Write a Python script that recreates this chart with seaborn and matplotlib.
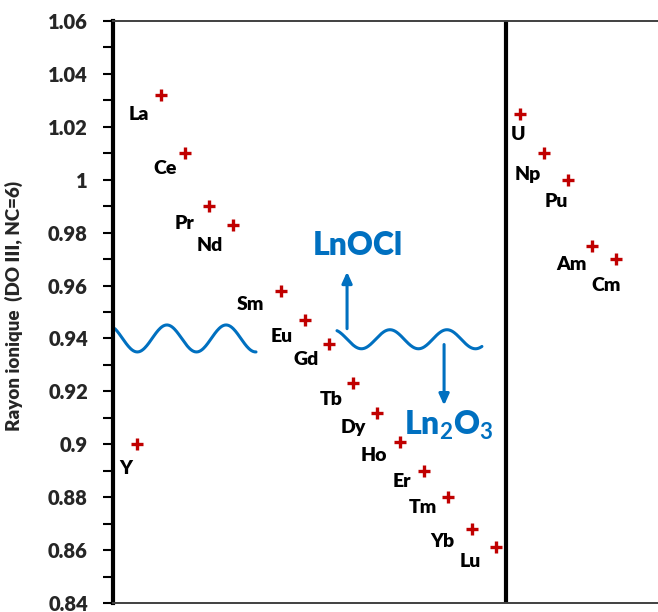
import numpy as np
import pandas as pd
import matplotlib
matplotlib.use("Agg")
import matplotlib.pyplot as plt
from matplotlib.ticker import MultipleLocator, FuncFormatter
import seaborn as sns

# Ionic radii (oxidation state III, coordination number 6)
elements = ["Y", "La", "Ce", "Pr", "Nd", "Sm", "Eu", "Gd", "Tb", "Dy",
            "Ho", "Er", "Tm", "Yb", "Lu", "U", "Np", "Pu", "Am", "Cm"]
positions = [0, 1, 2, 3, 4, 6, 7, 8, 9, 10, 11, 12, 13, 14, 15, 16, 17, 18, 19, 20]
radii = [0.900, 1.032, 1.010, 0.990, 0.983, 0.958, 0.947, 0.938, 0.923, 0.912,
         0.901, 0.890, 0.880, 0.868, 0.861, 1.025, 1.010, 1.000, 0.975, 0.970]

# label placement relative to each marker (pixels, right / down)
label_dx = [-11, -22, -20, -24, -23, -30, -23, -22, -21, -23,
            -27, -23, -26, -30, -26, -2, -16, -12, -21, -10]
label_dy = [23, 18, 14, 16, 19, 12, 15, 14, 15, 13,
            12, 9, 9, 11, 13, 19, 20, 20, 17, 25]

y_ticks = [0.84, 0.86, 0.88, 0.90, 0.92, 0.94, 0.96, 0.98, 1.00, 1.02, 1.04, 1.06]

df = pd.DataFrame({"element": elements, "position": positions, "radius": radii})

sns.set_theme(style="white")
plt.rcParams["font.family"] = ["Lato", "DejaVu Sans"]
plt.rcParams["font.weight"] = "bold"
plt.rcParams["mathtext.fontset"] = "custom"
plt.rcParams["mathtext.rm"] = "Lato:bold"
plt.rcParams["mathtext.it"] = "Lato:bold"
plt.rcParams["mathtext.bf"] = "Lato:bold"

RED = "#C00000"
BLUE = "#0070C0"

fig = plt.figure(figsize=(6.58, 6.12), dpi=100)
ax = fig.add_axes([113 / 658, 9 / 612, 545 / 658, 582 / 612])

sns.scatterplot(data=df, x="position", y="radius", marker="+", color=RED,
                s=70, linewidth=2.4, ax=ax, zorder=3, legend=False)

for name, x, y, dx, dy in zip(elements, positions, radii, label_dx, label_dy):
    ax.annotate(name, (x, y), xytext=(dx, -(dy + 7)), textcoords="offset pixels",
                ha="center", va="baseline", fontsize=14, fontweight="heavy",
                color="black")

# separator between lanthanides and actinides
ax.axvline(15.4, color="black", lw=3, zorder=2)

# wavy boundary between the two phase domains
xw1 = np.linspace(-0.92, 4.97, 200)
ax.plot(xw1, 0.94 + 0.0051 * np.cos(2 * np.pi * (xw1 - 1.25) / 2.47),
        color=BLUE, lw=2.2)
xw2 = np.linspace(8.35, 14.4, 200)
ax.plot(xw2, 0.9397 + 0.0036 * np.cos(2 * np.pi * (xw2 - 10.56) / 2.38),
        color=BLUE, lw=2.2)

arrow_style = dict(arrowstyle="-|>,head_length=0.55,head_width=0.25",
                   color=BLUE, lw=2.2, shrinkA=0, shrinkB=0)
ax.annotate("", xy=(8.77, 0.9652), xytext=(8.77, 0.9437), arrowprops=arrow_style)
ax.annotate("", xy=(12.82, 0.9147), xytext=(12.82, 0.9377), arrowprops=arrow_style)

ax.text(7.35, 0.9717, "LnOCl", color=BLUE, fontsize=23, fontweight="heavy",
        ha="left", va="baseline")
ax.text(11.15, 0.9036, "Ln$_2$O$_3$", color=BLUE, fontsize=23, fontweight="heavy",
        ha="left", va="baseline")

ax.set_xlim(-1.0, 21.75)
ax.set_ylim(0.84, 1.06)
ax.set_yticks(y_ticks)
ax.yaxis.set_minor_locator(MultipleLocator(0.01))
ax.yaxis.set_major_formatter(FuncFormatter(lambda v, p: f"{v:.2f}".rstrip("0").rstrip(".")))
ax.set_xticks([])
ax.set_xlabel("")
ax.set_ylabel("Rayon ionique  (DO III, NC=6)", fontsize=13.5, fontweight="heavy")
ax.yaxis.set_label_coords(-0.165, 0.51)

ax.tick_params(axis="y", which="both", direction="out", length=7, width=1.5,
               color="black", left=True, labelsize=14.5, pad=11)
for lab in ax.get_yticklabels():
    lab.set_fontweight("heavy")

ax.spines["left"].set_linewidth(3)
ax.spines["left"].set_color("black")
ax.spines["right"].set_visible(False)
for side in ("top", "bottom"):
    ax.spines[side].set_linewidth(1.4)
    ax.spines[side].set_color("#404040")

fig.savefig("out.png", dpi=100)
